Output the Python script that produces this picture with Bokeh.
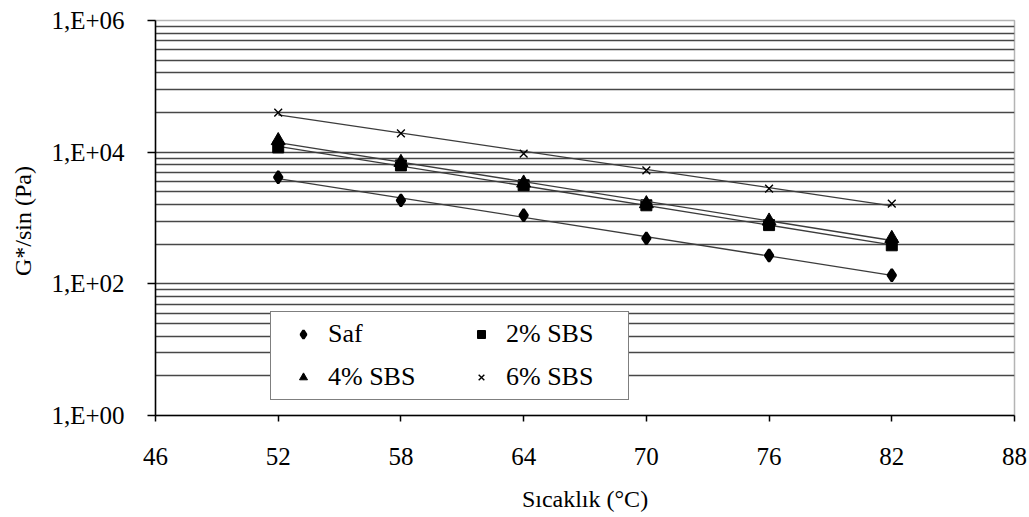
import numpy as np
from bokeh.plotting import figure
from bokeh.models import FixedTicker, CustomJSTickFormatter, Legend, LegendItem
from bokeh.embed import file_html
from bokeh.resources import INLINE

# ---- data ----
temps = [52, 58, 64, 70, 76, 82]
saf = [4150, 1850, 1100, 490, 270, 135]
sbs2 = [11800, 6300, 3150, 1560, 780, 385]
sbs4 = [15000, 7000, 3400, 1650, 900, 490]
sbs6 = [40000, 19300, 9500, 5300, 2800, 1650]
series_names = ["Saf", "2% SBS", "4% SBS", "6% SBS"]
x_ticks = [46, 52, 58, 64, 70, 76, 82, 88]
y_major = [1, 100, 10000, 1000000]

FONT = "Liberation Serif"

p = figure(width=1029, height=517, y_axis_type="log",
           x_range=(46, 88), y_range=(1, 1e6),
           output_backend="svg", toolbar_location=None,
           min_border_left=155, min_border_right=15,
           min_border_top=20, min_border_bottom=102)

p.background_fill_color = "white"
p.border_fill_color = "white"
p.outline_line_color = "#b4b4b4"
p.outline_line_width = 1.5

# grid: horizontal lines at 10^(2j) * k^2
minor = []
for j in range(3):
    for k in range(2, 10):
        minor.append((100 ** j) * k * k)
p.xgrid.visible = False
p.ygrid.ticker = FixedTicker(ticks=[100, 10000], minor_ticks=minor)
p.ygrid.grid_line_color = "#474747"
p.ygrid.grid_line_width = 1.7
p.ygrid.minor_grid_line_color = "#474747"
p.ygrid.minor_grid_line_width = 1.7

# axes
p.xaxis.ticker = FixedTicker(ticks=x_ticks)
p.yaxis.ticker = FixedTicker(ticks=y_major, minor_ticks=[])
p.yaxis.formatter = CustomJSTickFormatter(
    code='return "1,E+" + String(Math.round(Math.log10(tick))).padStart(2, "0");')
for ax in (p.xaxis[0], p.yaxis[0]):
    ax.axis_line_color = "black"
    ax.axis_line_width = 1.5
    ax.major_tick_line_color = "black"
    ax.major_tick_line_width = 1.5
    ax.minor_tick_line_color = None
    ax.major_tick_in = 0
    ax.major_label_text_font = FONT
    ax.major_label_text_font_size = "25px"
    ax.major_label_text_color = "black"
    ax.axis_label_text_font = FONT
    ax.axis_label_text_font_size = "24px"
    ax.axis_label_text_font_style = "normal"
    ax.axis_label_text_color = "black"
p.xaxis.major_tick_out = 6
p.yaxis.major_tick_out = 8
p.xaxis.major_label_standoff = 26
p.yaxis.major_label_standoff = 23
p.xaxis.axis_label = "Sıcaklık (°C)"
p.yaxis.axis_label = "G*/sin  (Pa)"
p.xaxis.axis_label_standoff = 18
p.yaxis.axis_label_standoff = 12

# trendlines (exponential fits) + markers
x = np.array(temps, dtype=float)
renderers = []
markers = ["diamond", "square", "triangle", "x"]
sizes = [12, 11, 14, 11]
widths = [2.5, 1, 1, 1.4]
for vals, mk, sz, lw in zip([saf, sbs2, sbs4, sbs6], markers, sizes, widths):
    v = np.array(vals, dtype=float)
    b, a = np.polyfit(x, np.log10(v), 1)
    fx = np.array([temps[0], temps[-1]], dtype=float)
    p.line(fx, 10 ** (a + b * fx), line_color="#3c3c3c", line_width=1.3)
    r = p.scatter(x, v, marker=mk, size=sz, fill_color="black",
                  line_color="black", line_width=lw)
    renderers.append(r)

items = [LegendItem(label=series_names[0], renderers=[renderers[0]]),
         LegendItem(label=series_names[2], renderers=[renderers[2]]),
         LegendItem(label=series_names[1], renderers=[renderers[1]]),
         LegendItem(label=series_names[3], renderers=[renderers[3]])]
legend = Legend(items=items, location=(115, 15), ncols=2,
                label_text_font=FONT, label_text_font_size="26px",
                label_text_color="black",
                border_line_color="black", border_line_width=1.3,
                background_fill_color="white", background_fill_alpha=1.0,
                padding=7, spacing=13, margin=0,
                glyph_width=50, glyph_height=20, label_height=26,
                label_width=115, label_standoff=0)
p.add_layout(legend, "center")

open("out.html", "w").write(file_html(p, INLINE))
